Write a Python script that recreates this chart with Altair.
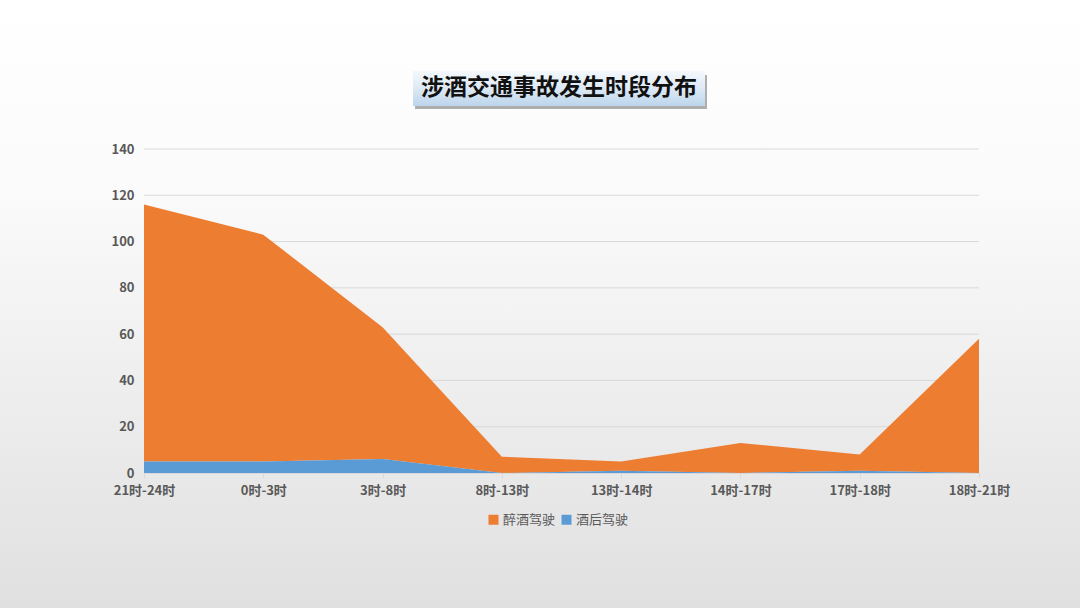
import altair as alt
import pandas as pd

periods = ["21时-24时", "0时-3时", "3时-8时", "8时-13时", "13时-14时", "14时-17时", "17时-18时", "18时-21时"]
drunk = [111, 98, 57, 7, 4, 13, 7, 58]      # 醉酒驾驶
drink = [5, 5, 6, 0, 1, 0, 1, 0]            # 酒后驾驶
series_names = ["醉酒驾驶", "酒后驾驶"]
series_colors = ["#ED7D31", "#5B9BD5"]
y_ticks = [0, 20, 40, 60, 80, 100, 120, 140]
title_text = "涉酒交通事故发生时段分布"

rows = []
for p, a, b in zip(periods, drunk, drink):
    rows.append({"period": p, "series": series_names[0], "value": a, "ord": 1})
    rows.append({"period": p, "series": series_names[1], "value": b, "ord": 0})
df = pd.DataFrame(rows)
grid_df = pd.DataFrame({"value": y_ticks[1:]})

W, H = 835, 324
PL, PT = 144, 149
one = pd.DataFrame({"a": [0]})

yscale = alt.Scale(domain=[0, 140], nice=False)
yaxis = alt.Axis(values=y_ticks, labelFont="Noto Sans CJK SC", labelFontSize=13,
                 labelFontWeight="bold", labelColor="#595959", labelPadding=10,
                 domain=False, ticks=False, grid=False, zindex=1)

bg = alt.Chart(one).mark_rect(
    color=alt.Gradient(gradient="linear", x1=0, x2=0, y1=0, y2=1,
                       stops=[alt.GradientStop(color="#ffffff", offset=0),
                              alt.GradientStop(color="#fbfbfb", offset=0.3),
                              alt.GradientStop(color="#e0e0e0", offset=1)])
).encode(x=alt.value(-PL), x2=alt.value(1080 - PL), y=alt.value(-PT), y2=alt.value(608 - PT))

shadow = alt.Chart(one).mark_rect(color="#9a9a9a", opacity=0.8).encode(
    x=alt.value(415 - PL), x2=alt.value(707 - PL), y=alt.value(75 - PT), y2=alt.value(109 - PT))
box = alt.Chart(one).mark_rect(
    color=alt.Gradient(gradient="linear", x1=0, x2=0, y1=0, y2=1,
                       stops=[alt.GradientStop(color="#f4f8fc", offset=0),
                              alt.GradientStop(color="#dde9f5", offset=0.5),
                              alt.GradientStop(color="#bcd5ec", offset=1)])
).encode(x=alt.value(413 - PL), x2=alt.value(705 - PL), y=alt.value(71 - PT), y2=alt.value(106 - PT))
title = alt.Chart(pd.DataFrame({"t": [title_text]})).mark_text(
    font="Noto Sans CJK SC", fontSize=23, fontWeight="bold", color="#111111", baseline="middle", align="center"
).encode(x=alt.value(559 - PL), y=alt.value(88 - PT), text="t:N")

grid = alt.Chart(grid_df).mark_rule(color="#d9d9d9", strokeWidth=1).encode(
    y=alt.Y("value:Q", scale=yscale, title=None, axis=yaxis), x=alt.value(0), x2=alt.value(W))

area = alt.Chart(df).mark_area(opacity=1).encode(
    x=alt.X("period:N", sort=periods, title=None,
            scale=alt.Scale(type="point", padding=0),
            axis=alt.Axis(labelAngle=0, labelFont="Noto Sans CJK SC", labelFontSize=13,
                          labelFontWeight="bold", labelColor="#595959", labelPadding=6,
                          domainColor="#d9d9d9", tickColor="#d9d9d9", tickSize=5, grid=False,
                          zindex=1)),
    y=alt.Y("value:Q", stack="zero", title=None, scale=yscale, axis=yaxis),
    color=alt.Color("series:N", scale=alt.Scale(domain=series_names, range=series_colors),
                    legend=alt.Legend(title=None, orient="none", direction="horizontal",
                                      legendX=487 - PL, legendY=513 - PT, symbolType="square",
                                      symbolSize=100, symbolStrokeWidth=0, labelFont="Noto Sans CJK SC",
                                      labelFontSize=13, labelColor="#595959", columnPadding=4,
                                      labelOffset=3)),
    order=alt.Order("ord:Q", sort="ascending"),
)

chart = alt.layer(bg, shadow, box, title, grid, area).properties(
    width=W, height=H, padding={"left": PL, "top": PT, "right": 1080 - PL - W, "bottom": 608 - PT - H},
    autosize=alt.AutoSizeParams(type="none"), background="#ffffff"
).configure_view(stroke=None)

chart.save("out.html", embed_options={"renderer": "svg", "actions": False})
